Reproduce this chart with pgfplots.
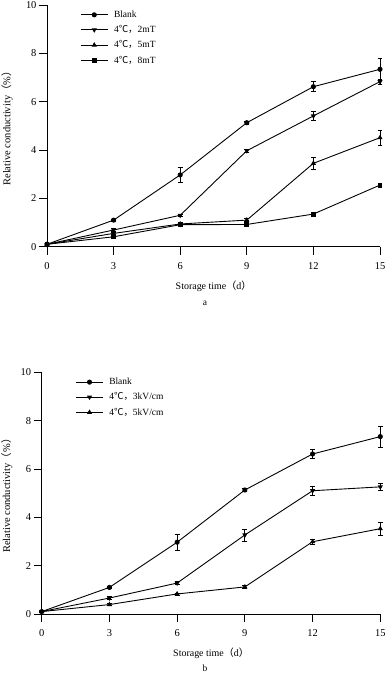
\documentclass[border=0pt]{standalone}
\usepackage{pgfplots}
\pgfplotsset{compat=1.18}
\usepackage{fontspec}
\setmainfont{Liberation Serif}
\newfontfamily\cjk{Noto Sans CJK SC}
\begin{document}
\begin{tikzpicture}
\useasboundingbox (0bp,0bp) rectangle (387bp,673bp);
\pgfplotsset{
  myaxis/.style={
    scale only axis, height=241.7bp,
    xmin=0, xmax=15, ymin=0, ymax=10,
    axis x line*=bottom, axis y line*=left,
    axis line style={line width=0.8pt},
    xtick={0,3,6,9,12,15}, ytick={0,2,4,6,8,10},
    tick align=outside, major tick length=8bp,
    tick style={line width=0.8pt, black},
    ticklabel style={font=\fontsize{10.5}{12}\selectfont},
    xticklabel style={yshift=-4bp},
    yticklabel style={xshift=1bp},
    /pgf/number format/assume math mode=true,
    xlabel={Storage time{\cjk （}d{\cjk ）}},
    ylabel={Relative conductivity{\cjk （}\%{\cjk ）}},
    xlabel style={font=\fontsize{10}{12}\selectfont, yshift=-5bp},
    ylabel style={font=\fontsize{10.5}{12}\selectfont},
    clip=false,
    legend style={draw=none, fill=none, at={(0.1,0.985)}, anchor=north west,
      font=\fontsize{9.5}{11}\selectfont, row sep=2.6bp, inner sep=0pt,
      legend cell align=left, nodes={inner xsep=6bp}},
    legend image code/.code={\draw[mark repeat=2,mark phase=2] plot coordinates {(0cm,0cm) (0.47cm,0cm) (0.94cm,0cm)};},
    every axis plot/.append style={black, line width=0.9pt, mark size=2.1pt,
      error bars/y dir=both, error bars/y explicit,
      error bars/error bar style={line width=0.8pt},
      error bars/error mark options={rotate=90, mark size=2.5pt, line width=0.8pt}},
  }
}
\begin{axis}[myaxis, at={(47bp,426.3bp)}, anchor=south west, width=333bp, ylabel style={yshift=6.5bp}]
\addplot[mark=*] coordinates {(0,0.1)+-(0,0.02) (3,1.1)+-(0,0.05) (6,2.97)+-(0,0.33) (9,5.13)+-(0,0.05) (12,6.62)+-(0,0.2) (15,7.34)+-(0,0.43)};
\addlegendentry{Blank}
\addplot[mark=triangle*, mark options={rotate=180}] coordinates {(0,0.1)+-(0,0.02) (3,0.69)+-(0,0.05) (6,1.3)+-(0,0.05) (9,3.97)+-(0,0.06) (12,5.41)+-(0,0.18) (15,6.83)+-(0,0.1)};
\addlegendentry{4{\cjk ℃，}2mT}
\addplot[mark=triangle*] coordinates {(0,0.1)+-(0,0.02) (3,0.55)+-(0,0.05) (6,0.94)+-(0,0.05) (9,1.1)+-(0,0.06) (12,3.45)+-(0,0.25) (15,4.51)+-(0,0.3)};
\addlegendentry{4{\cjk ℃，}5mT}
\addplot[mark=square*, mark size=1.9pt] coordinates {(0,0.1)+-(0,0.02) (3,0.41)+-(0,0.05) (6,0.91)+-(0,0.05) (9,0.92)+-(0,0.05) (12,1.35)+-(0,0.08) (15,2.55)+-(0,0.06)};
\addlegendentry{4{\cjk ℃，}8mT}
\end{axis}
\node[font=\fontsize{9.5}{11}\selectfont] at (205bp,370bp) {a};
\begin{axis}[myaxis, at={(41.7bp,59bp)}, anchor=south west, width=338.6bp, ylabel style={yshift=1.5bp}]
\addplot[mark=*] coordinates {(0,0.1)+-(0,0.02) (3,1.1)+-(0,0.05) (6,2.97)+-(0,0.33) (9,5.13)+-(0,0.05) (12,6.62)+-(0,0.2) (15,7.34)+-(0,0.43)};
\addlegendentry{Blank}
\addplot[mark=triangle*, mark options={rotate=180}] coordinates {(0,0.1)+-(0,0.02) (3,0.66)+-(0,0.05) (6,1.28)+-(0,0.06) (9,3.27)+-(0,0.25) (12,5.1)+-(0,0.2) (15,5.26)+-(0,0.15)};
\addlegendentry{4{\cjk ℃，}3kV/cm}
\addplot[mark=triangle*] coordinates {(0,0.1)+-(0,0.02) (3,0.39)+-(0,0.04) (6,0.83)+-(0,0.04) (9,1.12)+-(0,0.05) (12,2.99)+-(0,0.1) (15,3.53)+-(0,0.27)};
\addlegendentry{4{\cjk ℃，}5kV/cm}
\end{axis}
\node[font=\fontsize{9.5}{11}\selectfont] at (205bp,5bp) {b};
\end{tikzpicture}
\end{document}
